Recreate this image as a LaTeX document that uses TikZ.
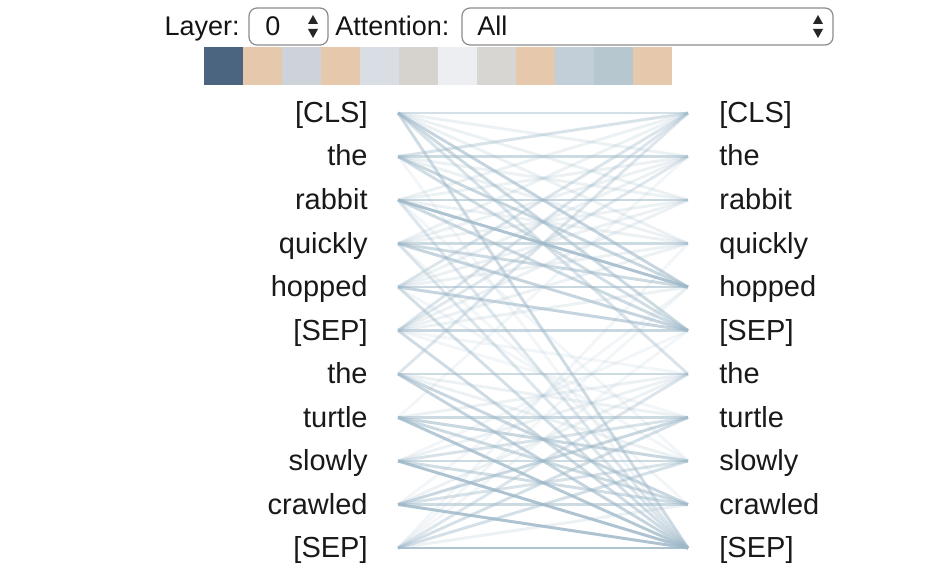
\documentclass[tikz,border=0pt]{standalone}
\usepackage{fontspec}
\setmainfont{Liberation Sans}
\usepackage{xcolor}
\usetikzlibrary{positioning}
\definecolor{attnblue}{RGB}{158,184,200}
\definecolor{slate}{RGB}{75,101,128}
\definecolor{peach}{RGB}{230,201,173}
\definecolor{mixa}{RGB}{205,211,216}
\definecolor{mixb}{RGB}{217,221,228}
\definecolor{mixc}{RGB}{214,211,207}
\definecolor{mixd}{RGB}{236,238,242}
\definecolor{mixe}{RGB}{216,214,210}
\definecolor{bluea}{RGB}{195,207,216}
\definecolor{blueb}{RGB}{182,199,208}

\begin{document}
\begin{tikzpicture}[x=0.5pt,y=-0.5pt,
    tok/.style={font=\fontsize{14.5}{17}\selectfont,inner sep=0pt,text=black!90},
    ctl/.style={font=\fontsize{13.5}{16}\selectfont,inner sep=0pt,text=black!92},
    attn/.style={attnblue,line width=1.45pt},
    selbox/.style={draw=black!45,fill=white,rounded corners=4pt,line width=0.6pt}]
  \useasboundingbox (0,0) rectangle (946,577);
  % drop-down menus
  \node[ctl,anchor=base east] (layerlbl) at (240,36) {Layer:};
  \draw[selbox] (249,8) rectangle (328,45);
  \node[ctl,anchor=base west] (layerval) at (265,36) {0};
  \fill[black!85] (308,24)--(318,24)--(313,15)--cycle;
  \fill[black!85] (308,29)--(318,29)--(313,38)--cycle;
  \node[ctl,anchor=base west] (attnlbl) at (335,36) {Attention:};
  \draw[selbox] (462,8) rectangle (833,45);
  \node[ctl,anchor=base west] (attnval) at (477,36) {All};
  \fill[black!85] (813,24)--(823,24)--(818,15)--cycle;
  \fill[black!85] (813,29)--(823,29)--(818,38)--cycle;
  % head colours
  \foreach \c [count=\k from 0] in {slate,peach,mixa,peach,mixb,mixc,mixd,mixe,peach,bluea,blueb,peach}
    \fill[\c] ({204+39*\k},47) rectangle ++(39,38);
  % tokens
  \foreach \w [count=\i from 0] in {{[CLS]},the,rabbit,quickly,hopped,{[SEP]},the,turtle,slowly,crawled,{[SEP]}}{
    \node[tok,anchor=base east] (ltok\i) at (368,{122.5+43.5*\i}) {\w};
    \node[tok,anchor=base west] (rtok\i) at (719,{122.5+43.5*\i}) {\w};
    \coordinate (lp\i) at (398,{113+43.5*\i});
    \coordinate (rp\i) at (688,{113+43.5*\i});
  }
  % attention lines
  \foreach \i in {0,...,5} \foreach \j in {0,...,5} \draw[attn,opacity=0.2] (lp\i)--(rp\j);
  \foreach \i in {6,...,10} \foreach \j in {6,...,10} \draw[attn,opacity=0.2] (lp\i)--(rp\j);
  \foreach \i/\j in {0/6,1/10,2/10,3/10,5/6,5/7,6/0,7/1,10/3,10/4,10/5,9/4,8/5,4/8,3/9,2/8}
    \draw[attn,opacity=0.13] (lp\i)--(rp\j);
  \foreach \i/\j/\w in {0/0/0.3,0/4/0.5,0/5/0.4,0/10/0.5,0/6/0.3,
      1/1/0.4,1/4/0.45,1/5/0.35,1/0/0.25,
      2/2/0.45,2/4/0.8,2/5/0.4,2/10/0.25,
      3/3/0.4,3/4/0.4,3/5/0.5,3/10/0.25,
      4/4/0.45,4/5/0.5,4/10/0.45,4/0/0.2,
      5/5/0.45,5/10/0.5,5/0/0.2,5/1/0.15,
      6/6/0.4,6/9/0.45,6/10/0.5,6/0/0.25,
      7/7/0.4,7/8/0.45,7/9/0.4,7/10/0.7,
      8/8/0.4,8/9/0.35,8/10/0.8,8/7/0.25,
      9/9/0.4,9/7/0.45,9/10/0.8,9/8/0.25,
      10/10/0.8,10/8/0.3,10/7/0.3,10/6/0.2}
    \draw[attn,opacity=\w] (lp\i)--(rp\j);
\end{tikzpicture}
\end{document}
